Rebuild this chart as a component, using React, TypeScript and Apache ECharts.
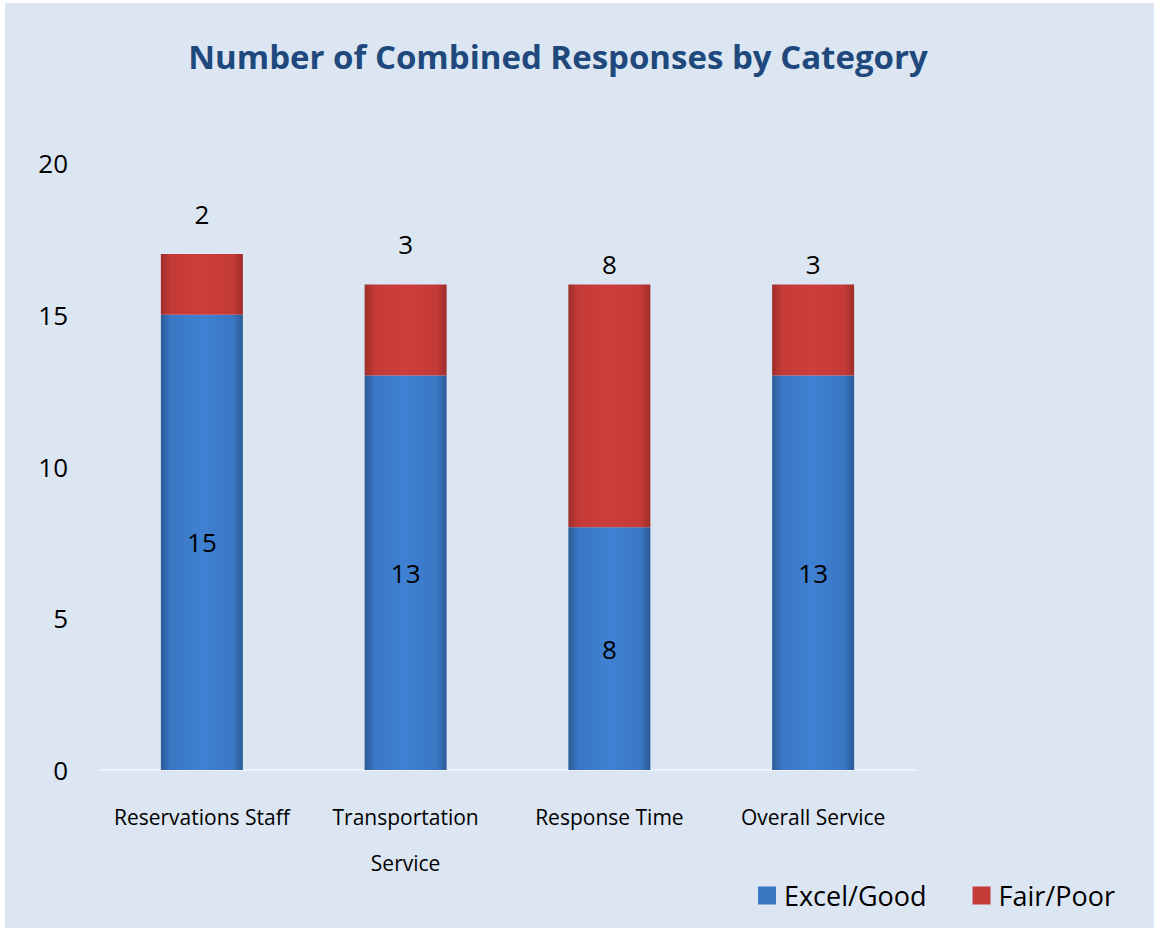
import React, { useEffect, useRef } from "react";
import * as echarts from "echarts";

const categories = ["Reservations Staff", "Transportation\nService", "Response Time", "Overall Service"];
const excelGood = [15, 13, 8, 13];
const fairPoor = [2, 3, 8, 3];
const fairPoorLabelGap = [27, 27, 7, 7];
const yTicks = [0, 5, 10, 15, 20];

const FONT = "'Open Sans', sans-serif";

export default function App() {
  const ref = useRef<HTMLDivElement>(null);
  useEffect(() => {
    if (!ref.current) return;
    const chart = echarts.init(ref.current, undefined, { renderer: "svg" });
    const blue = new echarts.graphic.LinearGradient(0, 0, 1, 0, [
      { offset: 0, color: "#2b5a96" },
      { offset: 0.12, color: "#3a77c4" },
      { offset: 0.5, color: "#3f81d2" },
      { offset: 0.88, color: "#3a77c4" },
      { offset: 1, color: "#2b5a96" },
    ]);
    const red = new echarts.graphic.LinearGradient(0, 0, 1, 0, [
      { offset: 0, color: "#9e2d2b" },
      { offset: 0.12, color: "#c43a37" },
      { offset: 0.5, color: "#cc3e3b" },
      { offset: 0.88, color: "#c43a37" },
      { offset: 1, color: "#9e2d2b" },
    ]);
    chart.setOption({
      animation: false,
      backgroundColor: "transparent",
      graphic: [
        {
          type: "rect",
          shape: { x: 5, y: 3, width: 1149, height: 925 },
          style: { fill: "#dce6f2" },
          z: -10,
          silent: true,
        },
      ],
      title: {
        text: "Number of Combined Responses by Category",
        left: 553,
        textAlign: "center",
        top: 35,
        textStyle: { fontFamily: FONT, fontSize: 33, fontWeight: "bold", color: "#1f497d" },
      },
      legend: {
        right: 34,
        top: 877,
        itemWidth: 18,
        itemHeight: 18,
        itemGap: 46,
        textStyle: { fontFamily: FONT, fontSize: 27, color: "#000", padding: [0, 0, 0, 3] },
        data: [
          { name: "Excel/Good", icon: "rect", itemStyle: { color: "#3a76c2" } },
          { name: "Fair/Poor", icon: "rect", itemStyle: { color: "#c43a37" } },
        ],
      },
      grid: { left: 100, right: 239, top: 163, bottom: 158 },
      xAxis: {
        type: "category",
        data: categories,
        axisLine: { show: true, lineStyle: { color: "#eef2f8", width: 2 } },
        axisTick: { show: false },
        axisLabel: {
          fontFamily: FONT,
          fontSize: 21,
          color: "#000",
          margin: 24,
          lineHeight: 46,
          interval: 0,
        },
      },
      yAxis: {
        type: "value",
        min: yTicks[0],
        max: yTicks[yTicks.length - 1],
        interval: 5,
        splitLine: { show: false },
        axisLine: { show: false },
        axisTick: { show: false },
        axisLabel: { fontFamily: FONT, fontSize: 26, color: "#000", margin: 32 },
      },
      series: [
        {
          name: "Excel/Good",
          type: "bar",
          stack: "total",
          barWidth: 82,
          data: excelGood,
          itemStyle: { color: blue },
          label: { show: true, position: "inside", fontFamily: FONT, fontSize: 26, color: "#000" },
        },
        {
          name: "Fair/Poor",
          type: "bar",
          stack: "total",
          barWidth: 82,
          data: fairPoor.map((v, i) => ({
            value: v,
            label: { distance: fairPoorLabelGap[i] },
          })),
          itemStyle: { color: red },
          label: { show: true, position: "top", fontFamily: FONT, fontSize: 26, color: "#000" },
        },
      ],
    });
    return () => chart.dispose();
  }, []);
  return (
    <div
      ref={ref}
      style={{ position: "absolute", left: 0, top: 0, width: 1154, height: 928 }}
    />
  );
}
